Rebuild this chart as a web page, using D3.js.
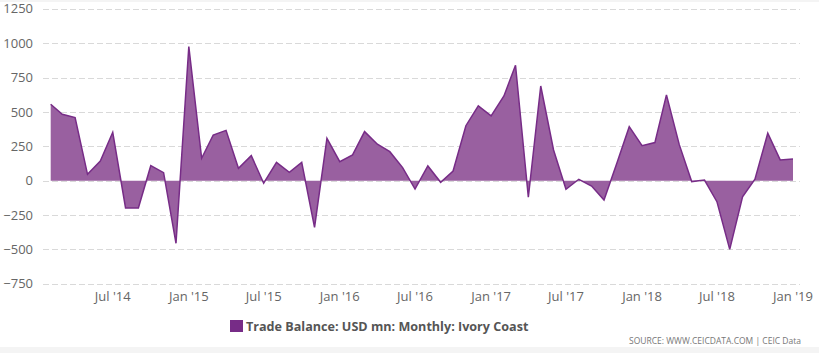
<!DOCTYPE html>
<html>
<head>
<meta charset="utf-8">
<script src="https://cdn.jsdelivr.net/npm/d3@7"></script>
<style>
  body { margin: 0; background: #fff; }
  svg { display: block; font-family: "Open Sans", "DejaVu Sans", sans-serif; }
</style>
</head>
<body>
<script>
// monthly trade balance, Feb 2014 .. Jan 2019
var startMonth = "2014-02";
var values = [556, 483, 459, 46, 143, 352, -199, -199, 109, 58, -456,
              976, 163, 332, 366, 90, 182, -19, 133, 61, 133, -340, 308,
              138, 187, 357, 265, 211, 95, -61, 107, -12, 70, 400, 544,
              471, 616, 840, -121, 689, 223, -63, 10, -39, -141, 127, 393,
              255, 277, 624, 262, -7, 4, -153, -500, -117, 10, 345, 151,
              158];
var yTicks = [-750, -500, -250, 0, 250, 500, 750, 1000, 1250];
var seriesName = "Trade Balance: USD mn: Monthly: Ivory Coast";
var sourceText = "SOURCE: WWW.CEICDATA.COM | CEIC Data";

var W = 819, H = 353;
var gridLeft = 43, gridRight = 800;

var parseMonth = d3.timeParse("%Y-%m");
var t0 = parseMonth(startMonth);
var data = values.map(function(v, i) {
    return {date: d3.timeMonth.offset(t0, i), value: v};
});

var svg = d3.select("body").append("svg")
    .attr("width", W)
    .attr("height", H);

// light bands top and bottom
svg.append("rect").attr("x", 0).attr("y", 0).attr("width", W).attr("height", 2).attr("fill", "#f4f4f4");
svg.append("rect").attr("x", 0).attr("y", 347).attr("width", W).attr("height", H - 347).attr("fill", "#f4f4f4");

var x = d3.scaleTime()
    .domain([data[0].date, data[data.length - 1].date])
    .range([50.7, 793]);

var y = d3.scaleLinear()
    .domain([-750, 1250])
    .range([283.7, 8.9]);

// grid lines
svg.append("g").selectAll("line")
    .data(yTicks)
    .enter().append("line")
    .attr("x1", gridLeft)
    .attr("x2", gridRight)
    .attr("y1", function(d) { return Math.round(y(d)) + 0.5; })
    .attr("y2", function(d) { return Math.round(y(d)) + 0.5; })
    .attr("stroke", "#d9d9d9")
    .attr("stroke-width", 1)
    .attr("stroke-dasharray", "6,3");

// y labels
svg.append("g").selectAll("text")
    .data(yTicks)
    .enter().append("text")
    .attr("x", 33)
    .attr("y", function(d) { return y(d); })
    .attr("dy", "0.35em")
    .attr("text-anchor", "end")
    .style("font-size", "13px")
    .attr("fill", "#666")
    .text(function(d) { return d3.format("")(d).replace("-", "\u2212"); });

// area + line
var area = d3.area()
    .x(function(d) { return x(d.date); })
    .y0(y(0))
    .y1(function(d) { return y(d.value); });

var line = d3.line()
    .x(function(d) { return x(d.date); })
    .y(function(d) { return y(d.value); });

svg.append("path")
    .datum(data)
    .attr("d", area)
    .attr("fill", "#9960a0");

svg.append("path")
    .datum(data)
    .attr("d", line)
    .attr("fill", "none")
    .attr("stroke", "#772c87")
    .attr("stroke-width", 1.5)
    .attr("stroke-linejoin", "miter");

// x axis labels
var xTicks = d3.timeMonth.range(parseMonth("2014-07"), parseMonth("2019-02"), 6);
var fmt = d3.timeFormat("%b '%y");
svg.append("g").selectAll("text")
    .data(xTicks)
    .enter().append("text")
    .attr("x", function(d) { return x(d); })
    .attr("y", 301)
    .attr("text-anchor", "middle")
    .style("font-size", "13px")
    .attr("fill", "#666")
    .text(function(d) { return fmt(d); });

// legend
var legend = svg.append("g").attr("transform", "translate(230,320)");
legend.append("rect")
    .attr("x", 0).attr("y", 0)
    .attr("width", 13).attr("height", 12)
    .attr("fill", "#772c87");
legend.append("text")
    .attr("x", 16).attr("y", 10.5)
    .style("font-size", "12.6px")
    .style("font-weight", "bold")
    .attr("fill", "#555")
    .text(seriesName);

// source
svg.append("text")
    .attr("x", 801).attr("y", 344)
    .attr("text-anchor", "end")
    .style("font-size", "8.5px")
    .attr("fill", "#777")
    .text(sourceText);
</script>
</body>
</html>
